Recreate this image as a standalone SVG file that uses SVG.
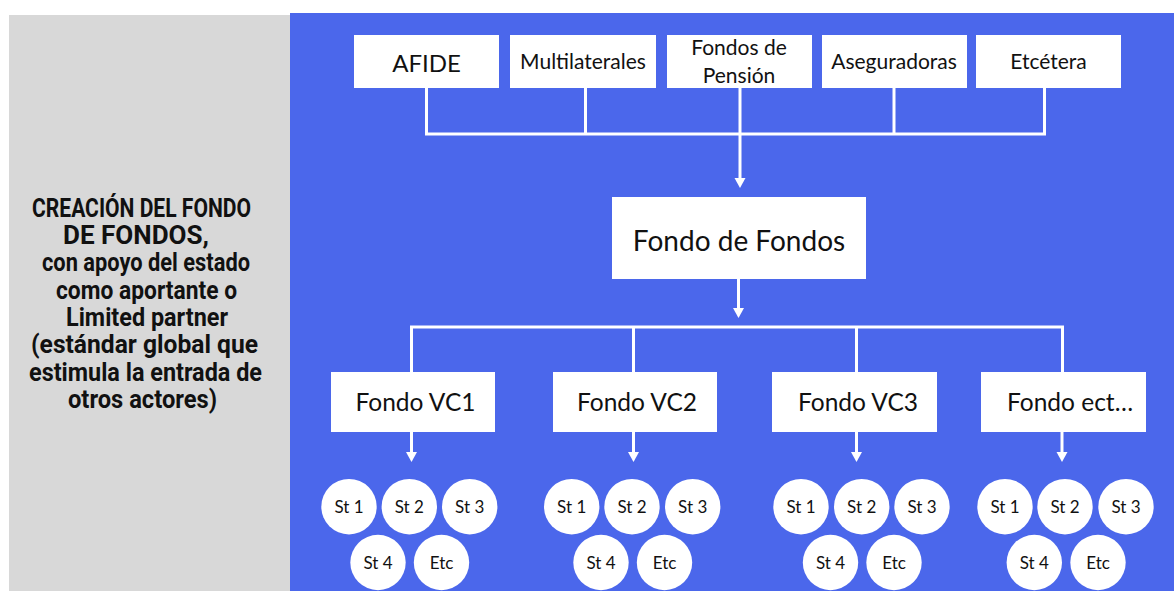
<svg xmlns="http://www.w3.org/2000/svg" width="1174" height="591" viewBox="0 0 1174 591">
<defs>
<style>
.box{fill:#ffffff}
.lbl{font-family:Lato,"Noto Sans","DejaVu Sans",sans-serif;fill:#111111;text-anchor:middle}
.side{font-family:Roboto,"Liberation Sans",sans-serif;font-weight:bold;font-size:26px;fill:#111111}
.st{fill:#ffffff}
.stl{font-family:Lato,"Noto Sans",sans-serif;font-size:17px;fill:#111111;text-anchor:middle}
.wire{stroke:#ffffff;stroke-width:3;fill:none}
</style>
<marker id="ah" markerUnits="userSpaceOnUse" markerWidth="12" markerHeight="12" refX="0" refY="5.5" orient="auto">
<path d="M0,0 L10,5.5 L0,11 Z" fill="#ffffff"/>
</marker>
</defs>
<rect width="1174" height="591" fill="#ffffff"/>
<rect x="9" y="15" width="281" height="576" fill="#d8d8d8"/>
<rect x="290" y="13" width="884" height="578" fill="#4b67eb"/>

<g id="side-text">
<text class="side" x="32" y="217" textLength="219" lengthAdjust="spacingAndGlyphs">CREACIÓN DEL FONDO</text>
<text class="side" x="63" y="244" textLength="146" lengthAdjust="spacingAndGlyphs">DE FONDOS,</text>
<text class="side" x="42" y="271" textLength="208" lengthAdjust="spacingAndGlyphs">con apoyo del estado</text>
<text class="side" x="56" y="299" textLength="181" lengthAdjust="spacingAndGlyphs">como aportante o</text>
<text class="side" x="66" y="326" textLength="162" lengthAdjust="spacingAndGlyphs">Limited partner</text>
<text class="side" x="31" y="353" textLength="227" lengthAdjust="spacingAndGlyphs">(estándar global que</text>
<text class="side" x="29" y="381" textLength="233" lengthAdjust="spacingAndGlyphs">estimula la entrada de</text>
<text class="side" x="68" y="408" textLength="149" lengthAdjust="spacingAndGlyphs">otros actores)</text>
</g>

<g id="connectors">
<polyline class="wire" points="426.5,88 426.5,134 1044.5,134 1044.5,88"/>
<line class="wire" x1="585.5" y1="88" x2="585.5" y2="134"/>
<line class="wire" x1="894" y1="88" x2="894" y2="134"/>
<line class="wire" x1="740" y1="88" x2="740" y2="134"/>
<line class="wire" x1="740" y1="134" x2="740" y2="178" marker-end="url(#ah)"/>
<line class="wire" x1="738.5" y1="279" x2="738.5" y2="308" marker-end="url(#ah)"/>
<polyline class="wire" points="411.5,372 411.5,327 1062.5,327 1062.5,372"/>
<line class="wire" x1="633.5" y1="327" x2="633.5" y2="372"/>
<line class="wire" x1="856.5" y1="327" x2="856.5" y2="372"/>
<line class="wire" x1="411.5" y1="432" x2="411.5" y2="452" marker-end="url(#ah)"/>
<line class="wire" x1="633.5" y1="432" x2="633.5" y2="452" marker-end="url(#ah)"/>
<line class="wire" x1="856.5" y1="432" x2="856.5" y2="452" marker-end="url(#ah)"/>
<line class="wire" x1="1062" y1="432" x2="1062" y2="452" marker-end="url(#ah)"/>
</g>

<g id="afide"><rect class="box" x="354" y="35" width="145" height="53"/><text class="lbl" x="426.5" y="72" font-size="24">AFIDE</text></g>
<g id="multilaterales"><rect class="box" x="510" y="35" width="146" height="53"/><text class="lbl" x="583" y="69" font-size="21">Multilaterales</text></g>
<g id="fondos-pension"><rect class="box" x="667" y="35" width="145" height="53"/><text class="lbl" x="739" y="55" font-size="21">Fondos de</text><text class="lbl" x="739" y="83" font-size="21">Pensión</text></g>
<g id="aseguradoras"><rect class="box" x="822" y="35" width="145" height="53"/><text class="lbl" x="894" y="69" font-size="21">Aseguradoras</text></g>
<g id="etcetera"><rect class="box" x="976" y="35" width="145" height="53"/><text class="lbl" x="1048.5" y="69" font-size="21">Etcétera</text></g>

<g id="fondo-de-fondos"><rect class="box" x="612" y="197" width="254" height="82"/><text class="lbl" x="739" y="251" font-size="28">Fondo de Fondos</text></g>

<g id="vc1"><rect class="box" x="331" y="372" width="164" height="60"/><text class="lbl" x="415.5" y="410.5" font-size="24.5">Fondo VC1</text></g>
<g id="vc2"><rect class="box" x="553" y="372" width="164" height="60"/><text class="lbl" x="637" y="410.5" font-size="24.5">Fondo VC2</text></g>
<g id="vc3"><rect class="box" x="772" y="372" width="165" height="60"/><text class="lbl" x="858" y="410.5" font-size="24.5">Fondo VC3</text></g>
<g id="vc-etc"><rect class="box" x="981" y="372" width="165" height="60"/><text class="lbl" x="1070" y="410.5" font-size="24.5">Fondo ect…</text></g>

<g id="vc1-startups">
<circle class="st" cx="349" cy="506.7" r="27.7"/><text class="stl" x="349" y="512.5">St 1</text>
<circle class="st" cx="409.3" cy="506.7" r="27.7"/><text class="stl" x="409.3" y="512.5">St 2</text>
<circle class="st" cx="469.7" cy="506.7" r="27.7"/><text class="stl" x="469.7" y="512.5">St 3</text>
<circle class="st" cx="378" cy="562.5" r="27.7"/><text class="stl" x="378" y="568.5">St 4</text>
<circle class="st" cx="441.5" cy="562.5" r="27.7"/><text class="stl" x="441.5" y="568.5">Etc</text>
</g>
<g id="vc2-startups">
<circle class="st" cx="571.7" cy="506.7" r="27.7"/><text class="stl" x="571.7" y="512.5">St 1</text>
<circle class="st" cx="632" cy="506.7" r="27.7"/><text class="stl" x="632" y="512.5">St 2</text>
<circle class="st" cx="692.7" cy="506.7" r="27.7"/><text class="stl" x="692.7" y="512.5">St 3</text>
<circle class="st" cx="601" cy="562.5" r="27.7"/><text class="stl" x="601" y="568.5">St 4</text>
<circle class="st" cx="664.5" cy="562.5" r="27.7"/><text class="stl" x="664.5" y="568.5">Etc</text>
</g>
<g id="vc3-startups">
<circle class="st" cx="801" cy="506.7" r="27.7"/><text class="stl" x="801" y="512.5">St 1</text>
<circle class="st" cx="861.7" cy="506.7" r="27.7"/><text class="stl" x="861.7" y="512.5">St 2</text>
<circle class="st" cx="922" cy="506.7" r="27.7"/><text class="stl" x="922" y="512.5">St 3</text>
<circle class="st" cx="830.5" cy="562.5" r="27.7"/><text class="stl" x="830.5" y="568.5">St 4</text>
<circle class="st" cx="894" cy="562.5" r="27.7"/><text class="stl" x="894" y="568.5">Etc</text>
</g>
<g id="vc-etc-startups">
<circle class="st" cx="1005" cy="506.7" r="27.7"/><text class="stl" x="1005" y="512.5">St 1</text>
<circle class="st" cx="1065" cy="506.7" r="27.7"/><text class="stl" x="1065" y="512.5">St 2</text>
<circle class="st" cx="1126" cy="506.7" r="27.7"/><text class="stl" x="1126" y="512.5">St 3</text>
<circle class="st" cx="1034.3" cy="562.5" r="27.7"/><text class="stl" x="1034.3" y="568.5">St 4</text>
<circle class="st" cx="1098" cy="562.5" r="27.7"/><text class="stl" x="1098" y="568.5">Etc</text>
</g>
</svg>
